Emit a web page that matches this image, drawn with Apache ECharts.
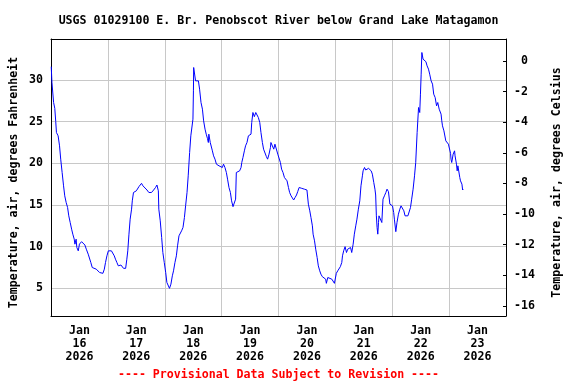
<!DOCTYPE html>
<html>
<head>
<meta charset="utf-8">
<script src="https://cdn.jsdelivr.net/npm/echarts@6.0.0/dist/echarts.min.js"></script>
<style>
html,body{margin:0;padding:0;background:#fff;}
#chart{width:576px;height:384px;}
</style>
</head>
<body>
<div id="chart"></div>
<script>
// ---- Data (hours since 2026-01-16 00:00, air temperature in deg F) ----
const titleText = "USGS 01029100 E. Br. Penobscot River below Grand Lake Matagamon";
const leftAxisName = "Temperature, air, degrees Fahrenheit";
const rightAxisName = "Temperature, air, degrees Celsius";
const footerText = "---- Provisional Data Subject to Revision ----";

const dayLabels = ["Jan\n16\n2026","Jan\n17\n2026","Jan\n18\n2026","Jan\n19\n2026","Jan\n20\n2026","Jan\n21\n2026","Jan\n22\n2026","Jan\n23\n2026"];
const dayLabelHours = [12, 36, 60, 84, 108, 132, 156, 180];
const leftTicks = [5, 10, 15, 20, 25, 30];
const rightTicks = [0, -2, -4, -6, -8, -10, -12, -14, -16];

const hours = [
  0.1, 0.4, 1.1, 1.6, 2.0, 2.3, 3.0, 3.6, 4.1, 4.7,
  5.3, 5.8, 6.4, 7.0, 7.5, 8.1, 8.7, 9.2, 9.8, 10.1,
  10.6, 10.9, 11.5, 12.0, 12.9, 13.7, 14.3, 14.9, 15.7, 16.3,
  16.8, 17.4, 17.9, 19.1, 20.5, 21.3, 21.9, 22.5, 23.0, 23.6,
  24.2, 24.7, 25.5, 26.7, 27.2, 27.8, 28.4, 28.9, 29.5, 30.1,
  30.6, 31.5, 32.0, 32.4, 32.9, 33.4, 34.0, 34.3, 34.8, 35.4,
  36.0, 36.5, 37.1, 37.7, 38.2, 38.8, 39.6, 40.5, 41.3, 41.9,
  42.4, 43.3, 44.1, 44.7, 45.3, 45.5, 46.1, 46.7, 47.2, 47.8,
  48.4, 48.9, 49.5, 50.0, 50.6, 51.2, 51.7, 52.3, 52.9, 53.4,
  54.0, 54.6, 55.1, 55.7, 56.3, 56.8, 57.4, 57.9, 58.5, 59.0,
  59.6, 59.9, 60.1, 60.2, 60.7, 61.0, 61.6, 62.2, 62.7, 63.3,
  63.9, 64.4, 65.0, 65.5, 66.0, 66.4, 66.6, 67.2, 67.8, 68.1,
  68.6, 69.2, 69.8, 70.3, 70.9, 71.7, 72.3, 72.8, 73.4, 74.0,
  74.5, 75.1, 75.7, 76.2, 76.8, 77.4, 77.9, 78.2, 78.8, 79.6,
  80.2, 80.5, 81.0, 81.6, 82.1, 82.7, 83.3, 83.8, 84.4, 84.7,
  85.2, 85.8, 86.4, 86.9, 87.5, 88.1, 88.6, 89.2, 89.7, 90.3,
  90.9, 91.4, 92.0, 92.6, 92.8, 93.4, 94.0, 94.5, 95.1, 95.7,
  96.2, 96.8, 97.3, 97.9, 98.5, 99.0, 99.6, 100.2, 100.7, 101.3,
  101.9, 102.4, 103.0, 103.6, 104.1, 104.7, 105.2, 105.8, 106.3, 106.9,
  107.5, 108.0, 108.6, 109.2, 109.7, 110.3, 110.6, 111.2, 111.7, 112.3,
  112.8, 113.4, 113.9, 114.5, 115.1, 115.9, 116.2, 116.8, 117.3, 118.5,
  119.0, 119.6, 120.4, 121.0, 121.5, 122.1, 122.7, 123.0, 123.5, 124.1,
  124.7, 125.2, 126.4, 126.9, 127.5, 128.0, 128.6, 129.1, 129.7, 130.3,
  130.8, 131.4, 131.7, 132.3, 132.8, 133.4, 134.0, 134.5, 135.1, 135.6,
  136.2, 136.7, 137.0, 137.3, 137.6, 137.9, 138.2, 138.4, 139.0, 139.6,
  140.1, 140.7, 141.3, 141.8, 142.4, 143.0, 143.5, 144.1, 144.6, 144.9,
  145.5, 146.0, 146.6, 147.2, 147.7, 148.3, 148.9, 149.4, 150.0, 150.6,
  151.1, 151.7, 152.2, 152.8, 153.4, 153.9, 154.5, 155.1, 155.6, 155.9,
  156.2, 156.5, 157.0, 157.6, 158.2, 158.7, 159.3, 159.8, 160.4, 161.0,
  161.5, 162.1, 162.7, 163.2, 163.8, 164.1, 164.6, 164.9, 165.2, 165.8,
  166.3, 166.6, 167.2, 167.7, 168.3, 168.6, 168.8, 169.1, 169.7, 170.3,
  170.5, 171.1, 171.4, 171.7, 172.2, 172.5, 172.8, 173.4, 173.7, 173.9
];
const tempF = [
  31.6, 29.7, 27.3, 26.6, 25.0, 23.7, 23.3, 22.1, 20.5, 18.9,
  17.3, 16.1, 15.3, 14.7, 13.7, 12.9, 12.1, 11.5, 10.9, 10.3,
  10.9, 9.9, 9.5, 10.3, 10.6, 10.8, 10.2, 9.7, 9.1, 8.9,
  8.1, 7.5, 7.3, 7.3, 6.9, 6.7, 6.8, 7.3, 8.1, 8.9,
  9.5, 9.3, 9.5, 8.9, 8.5, 8.1, 7.7, 7.6, 7.8, 7.9,
  7.4, 7.4, 8.5, 9.5, 11.5, 13.3, 14.5, 15.5, 16.5, 16.7,
  16.7, 16.5, 17.2, 17.4, 17.6, 17.3, 17.1, 16.8, 16.5, 16.3,
  16.5, 16.8, 17.1, 17.4, 16.7, 14.5, 13.1, 11.1, 9.3, 8.1,
  6.9, 5.7, 5.5, 5.0, 5.5, 6.5, 7.1, 8.1, 8.9, 10.1,
  11.3, 11.5, 11.9, 12.3, 13.5, 14.9, 16.5, 18.5, 21.3, 23.3,
  23.5, 25.3, 28.7, 31.5, 31.3, 29.9, 30.0, 29.9, 28.9, 27.3,
  26.5, 25.1, 24.1, 23.5, 23.0, 22.5, 23.5, 22.5, 22.7, 21.5,
  20.9, 20.5, 19.9, 19.9, 19.7, 19.7, 19.5, 19.9, 19.5, 18.9,
  18.1, 17.1, 16.5, 15.5, 14.8, 15.0, 15.7, 18.9, 19.0, 19.1,
  19.5, 20.1, 20.7, 21.5, 22.1, 22.5, 23.3, 23.4, 23.5, 24.9,
  26.1, 25.6, 26.1, 25.9, 25.5, 24.9, 23.7, 22.5, 21.7, 21.5,
  20.8, 20.5, 21.1, 21.9, 22.5, 22.3, 21.7, 22.3, 22.1, 21.1,
  20.9, 20.1, 19.3, 18.9, 18.3, 18.5, 17.9, 17.1, 16.5, 16.1,
  15.9, 15.6, 15.9, 16.2, 16.6, 17.1, 17.2, 17.0, 17.1, 16.9,
  17.1, 16.8, 15.1, 14.3, 13.5, 12.5, 11.5, 10.7, 9.7, 8.7,
  7.7, 7.1, 6.7, 6.4, 6.6, 6.1, 5.6, 6.3, 6.4, 6.1,
  5.9, 5.6, 6.8, 7.1, 7.3, 7.6, 8.1, 8.9, 9.5, 10.0,
  9.3, 9.7, 9.9, 9.3, 10.3, 11.5, 12.5, 13.3, 14.5, 15.5,
  17.3, 18.5, 19.1, 19.5, 19.2, 19.3, 19.4, 19.6, 19.1, 18.7,
  17.7, 16.9, 16.2, 13.7, 12.3, 11.5, 12.9, 13.7, 13.5, 12.9,
  15.7, 16.1, 16.5, 16.9, 16.6, 15.1, 15.0, 14.9, 14.1, 13.3,
  11.8, 12.9, 13.9, 14.5, 14.9, 14.9, 14.3, 13.7, 13.5, 13.7,
  13.5, 14.7, 15.7, 16.9, 18.5, 20.1, 23.7, 26.7, 26.1, 28.3,
  30.7, 33.3, 32.5, 32.4, 32.2, 31.7, 31.3, 30.7, 29.9, 29.5,
  28.3, 27.9, 26.9, 27.3, 26.5, 26.3, 25.9, 25.1, 24.5, 23.9,
  23.7, 22.7, 22.5, 22.3, 22.1, 21.2, 20.5, 20.1, 21.1, 21.5,
  20.9, 19.9, 19.1, 19.7, 19.6, 18.3, 17.9, 17.5, 16.8, 16.9
];

const seriesData = hours.map((h, i) => [h, tempF[i]]);

const FONT = '"DejaVu Sans Mono", "Liberation Mono", monospace';
const FS = 11.6;
const plotLeft = 51, plotRight = 506, plotTop = 39, plotBottom = 316;
const plotCenterX = (plotLeft + plotRight) / 2;

const chart = echarts.init(document.getElementById('chart'), null, {renderer: 'canvas', width: 576, height: 384});

const labelStyle = {color: '#000', fontFamily: FONT, fontWeight: 'bold', fontSize: FS};
const blackLine = {show: true, onZero: false, lineStyle: {color: '#000', width: 1}};

chart.setOption({
  animation: false,
  backgroundColor: '#ffffff',
  textStyle: labelStyle,
  grid: {
    left: plotLeft, right: 576 - plotRight, top: plotTop, bottom: 384 - plotBottom,
    show: false
  },
  xAxis: [
    {
      type: 'value', min: 0, max: 192, interval: 24, position: 'bottom',
      axisLine: blackLine,
      axisTick: {show: false},
      splitLine: {show: true, lineStyle: {color: '#c8c8c8', width: 1}},
      axisLabel: Object.assign({
        customValues: dayLabelHours,
        margin: 8,
        lineHeight: 13,
        formatter: function (v) {
          const i = dayLabelHours.indexOf(Math.round(v));
          return i >= 0 ? dayLabels[i] : '';
        }
      }, labelStyle)
    },
    {
      type: 'value', min: 0, max: 192, position: 'top',
      axisLine: blackLine,
      axisTick: {show: false},
      axisLabel: {show: false},
      splitLine: {show: false}
    }
  ],
  yAxis: [
    {
      type: 'value', min: 1.68, max: 34.92, position: 'left',
      axisLine: blackLine,
      axisTick: {show: false, customValues: leftTicks},
      splitLine: {show: true, lineStyle: {color: '#c8c8c8', width: 1}},
      axisLabel: Object.assign({customValues: leftTicks, margin: 8}, labelStyle)
    },
    {
      type: 'value', position: 'right', min: -16.67, max: 1.44,
      axisLine: blackLine,
      axisTick: {show: true, inside: true, length: 3, customValues: rightTicks, lineStyle: {color: '#000', width: 1}},
      splitLine: {show: false},
      axisLabel: Object.assign({
        customValues: rightTicks, margin: 8, align: 'left',
        formatter: function (v) { return v >= 0 ? ' ' + v : String(v); }
      }, labelStyle)
    }
  ],
  series: [{
    type: 'line',
    xAxisIndex: 0,
    yAxisIndex: 0,
    data: seriesData,
    showSymbol: false,
    symbol: 'none',
    silent: true,
    z: 1,
    lineStyle: {color: '#0000ff', width: 1}
  }],
  graphic: [
    {type: 'text', x: plotCenterX, y: 21, style: {text: titleText, align: 'center', verticalAlign: 'middle', fill: '#000', font: 'bold ' + FS + 'px ' + FONT}},
    {type: 'text', x: 14, y: 182.5, rotation: Math.PI / 2, style: {text: leftAxisName, align: 'center', verticalAlign: 'middle', fill: '#000', font: 'bold ' + FS + 'px ' + FONT}},
    {type: 'text', x: 557, y: 182.5, rotation: Math.PI / 2, style: {text: rightAxisName, align: 'center', verticalAlign: 'middle', fill: '#000', font: 'bold ' + FS + 'px ' + FONT}},
    {type: 'text', x: plotCenterX, y: 375, style: {text: footerText, align: 'center', verticalAlign: 'middle', fill: '#ff0000', font: 'bold ' + FS + 'px ' + FONT}}
  ]
});
</script>
</body>
</html>
